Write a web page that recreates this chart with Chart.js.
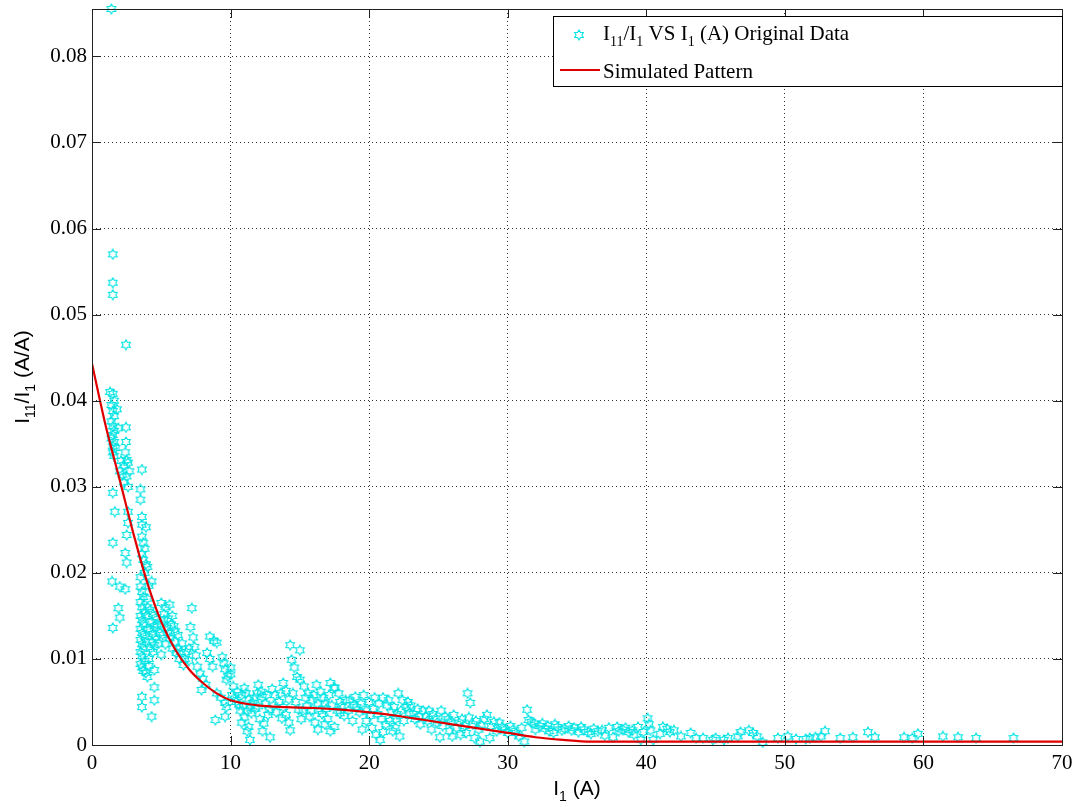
<!DOCTYPE html>
<html>
<head>
<meta charset="utf-8">
<script src="https://cdn.jsdelivr.net/npm/chart.js@4/dist/chart.umd.min.js"></script>
<style>
html, body { margin: 0; padding: 0; background: #fff; }
</style>
</head>
<body>
<canvas id="chart" width="1075" height="807"></canvas>
<script>
// axis ranges / ticks
const xMin = 0, xMax = 70, xStep = 10;
const yMin = 0, yMax = 0.0855, yStep = 0.01;

// simulated pattern (fitted curve)
const fitX = [0, 1, 2, 3, 4, 5, 6, 7, 8, 9, 10, 12, 14, 16, 18, 20, 22, 24, 26, 28, 30, 32, 34, 36, 38, 40, 45, 50, 55, 60, 65, 70];
const fitY = [0.0443, 0.0370, 0.0308, 0.0245, 0.0188, 0.0143, 0.0111, 0.0088, 0.0072, 0.0060, 0.0052, 0.0046, 0.0044, 0.0043, 0.0041, 0.0038, 0.0034, 0.0029, 0.0024, 0.0019, 0.0014, 0.0009, 0.0006, 0.0004, 0.0004, 0.0004, 0.0004, 0.0004, 0.0004, 0.0004, 0.0004, 0.0004];

// original data, I1 (A) vs I11/I1
const lowCurrent = [
  [1.4,0.0855],[1.5,0.0570],[1.5,0.0537],[1.5,0.0523],[2.45,0.0465],
  [1.3,0.0410],[1.5,0.0408],[1.6,0.0400],[1.4,0.0395],[1.5,0.0388],[1.6,0.0382],[1.4,0.0376],[1.5,0.0370],
  [1.6,0.0365],[1.5,0.0360],[1.4,0.0356],[1.6,0.0352],[1.5,0.0347],[1.7,0.0345],[1.5,0.0340],[1.6,0.0336],
  [1.9,0.0368],[1.8,0.0390],[2.45,0.0369],[2.45,0.0352],[2.4,0.0340],[2.5,0.0331],[2.1,0.0330],[2.3,0.0325],
  [2.6,0.0328],[2.0,0.0318],[2.2,0.0314],[2.5,0.0312],[2.7,0.0318],[2.3,0.0305],[2.6,0.0300],
  [3.6,0.0320],[3.5,0.0297],[3.5,0.0285],[3.6,0.0265],[3.6,0.0256],[3.9,0.0253],
  [1.5,0.0293],[1.65,0.0271],[1.5,0.0235],[2.4,0.0223],[2.5,0.0212],[2.6,0.0271],[2.6,0.0258],[2.5,0.0244],
  [3.6,0.0242],[3.7,0.0235],[3.8,0.0228],[3.6,0.0222],[3.7,0.0215],[3.9,0.0210],[4.0,0.0207],[3.8,0.0200],[3.5,0.0195],
  [1.45,0.0190],[2.0,0.0184],[2.4,0.0181],[1.9,0.0159],[2.0,0.0148],[1.5,0.0136],
  [3.5,0.0184],[3.6,0.0178],[3.7,0.0172],[3.5,0.0166],[3.6,0.0160],[3.8,0.0155],[3.5,0.0150],[3.6,0.0145],
  [3.7,0.0140],[3.5,0.0135],[3.6,0.0130],[3.8,0.0126],[3.5,0.0122],[3.6,0.0117],[3.7,0.0112],[3.5,0.0108],
  [3.6,0.0103],[3.8,0.0098],[3.5,0.0094],[3.6,0.0090],[3.7,0.0086],
  [3.6,0.0056],[3.6,0.0044],[4.3,0.0033],[4.5,0.0067],[4.5,0.0052],[4.0,0.0079],[4.5,0.0087],[4.1,0.0092],[3.9,0.0084],
  [4.2,0.0157],[4.4,0.0152],[4.6,0.0148],[4.3,0.0143],[4.5,0.0138],[4.2,0.0134],[4.4,0.0129],[4.6,0.0125],
  [4.3,0.0120],[4.5,0.0116],[4.2,0.0112],[4.4,0.0108],[4.0,0.0170],[4.1,0.0185],[4.3,0.0190],
  [3.9,0.0120],[4.0,0.0135],[4.1,0.0100],[3.9,0.0150],[4.0,0.0160],[4.7,0.0140],[4.8,0.0118],[4.9,0.0130]
];
const midCurrent = [
  [5.0,0.0165],[5.3,0.0160],[5.6,0.0163],[5.2,0.0152],[5.5,0.0147],[5.8,0.0150],[5.0,0.0140],[5.4,0.0136],
  [5.9,0.0138],[5.1,0.0128],[5.6,0.0124],[6.0,0.0120],[5.3,0.0117],[5.8,0.0112],[6.1,0.0107],[5.0,0.0105],
  [6.2,0.0128],[6.5,0.0118],[6.3,0.0100],[6.6,0.0093],[7.2,0.0159],[7.1,0.0137],[7.3,0.0125],[7.4,0.0114],
  [6.8,0.0108],[7.0,0.0098],[5.2,0.0145],[5.5,0.0130],[5.7,0.0140],[6.0,0.0132],[6.2,0.0112],[6.4,0.0108],
  [6.7,0.0100],[7.0,0.0112],[7.5,0.0104],
  [8.5,0.0126],[8.8,0.0121],[9.0,0.0119],[8.3,0.0107],[8.5,0.0100],[8.7,0.0091],[7.6,0.0091],[7.8,0.0083],
  [8.0,0.0077],[8.2,0.0070],[7.9,0.0064],[9.4,0.0102],[9.5,0.0095],[9.6,0.0088],[9.8,0.0080],[9.7,0.0076],
  [9.0,0.0060],[9.3,0.0055],[9.6,0.0049],[9.7,0.0044],[8.9,0.0029],[9.6,0.0033],[10.0,0.0090],[10.0,0.0082],
  [10.2,0.0068],[10.5,0.0062],[10.8,0.0058],[11.0,0.0066],[11.3,0.0053],[11.6,0.0049],[11.9,0.0060],[10.4,0.0050],
  [10.9,0.0045],[11.2,0.0040],[11.5,0.0037],[12.0,0.0070],[12.3,0.0056],[12.5,0.0048],[12.8,0.0041],[13.0,0.0065],
  [13.2,0.0058],[13.5,0.0050],[13.8,0.0072],[14.0,0.0063],[14.2,0.0053],[12.1,0.0030],[12.4,0.0025],[11.3,0.0021],
  [11.4,0.0006],[12.85,0.0009],[14.3,0.0116],[15.0,0.0110],[14.4,0.0099],[14.6,0.0090],[14.8,0.0079],[13.8,0.0044],
  [14.0,0.0035],[14.2,0.0026],[14.3,0.0017],
  [10.1,0.0058],[10.3,0.0054],[10.6,0.0047],[10.7,0.0040],[11.1,0.0060],[11.4,0.0045],[11.7,0.0055],[11.8,0.0042],
  [12.2,0.0062],[12.6,0.0058],[12.7,0.0035],[13.1,0.0046],[13.3,0.0038],[13.6,0.0060],[13.7,0.0031],[12.0,0.0045],
  [11.0,0.0032],[10.8,0.0026],[11.2,0.0016],[12.3,0.0016],
  [15.0,0.0076],[15.3,0.0068],[15.6,0.0060],[15.9,0.0052],[16.2,0.0070],[16.5,0.0062],[16.8,0.0048],[17.1,0.0058],
  [17.5,0.0066],[17.9,0.0050],[15.2,0.0040],[15.7,0.0033],[16.1,0.0026],[16.6,0.0036],[17.0,0.0030],[17.5,0.0021],[17.9,0.0037],
  [14.5,0.0060],[14.7,0.0050],[14.9,0.0041],[15.4,0.0055],[15.5,0.0045],[15.8,0.0040],[16.0,0.0058],[16.3,0.0048],
  [16.4,0.0040],[16.7,0.0055],[16.9,0.0042],[17.3,0.0046],[17.7,0.0040],[15.1,0.0030],[16.3,0.0018],[16.8,0.0024],[17.2,0.0016],
  [17.2,0.0072],[17.5,0.0067],[17.8,0.0060],[18.6,0.0052],[18.9,0.0047],[19.1,0.0044],[19.6,0.0058],[20.0,0.0050],
  [20.3,0.0042],[20.6,0.0036],[21.0,0.0055],[21.3,0.0046],[21.6,0.0038],[21.9,0.0030],[22.1,0.0060],[22.4,0.0052],
  [22.7,0.0044],[19.8,0.0028],[20.2,0.0020],[20.5,0.0012],[20.8,0.0006],[21.2,0.0024],[21.7,0.0016],[22.2,0.0010],
  [18.2,0.0034],[18.8,0.0028],[19.3,0.0038],
  [18.0,0.0045],[18.3,0.0052],[18.5,0.0040],[19.0,0.0056],[19.4,0.0048],[19.8,0.0040],[20.1,0.0034],[20.4,0.0055],
  [20.7,0.0048],[20.9,0.0030],[21.4,0.0052],[21.5,0.0028],[21.8,0.0044],[22.0,0.0036],[22.3,0.0040],[22.5,0.0028],
  [22.8,0.0050],[19.5,0.0018],[21.0,0.0015],[21.9,0.0020]
];
const highCurrent = [
  [22.9,0.0037],[23.3,0.0030],[23.7,0.0024],[24.1,0.0033],[24.5,0.0018],[24.9,0.0026],[25.1,0.0009],[23.5,0.0042],
  [24.3,0.0040],[25.5,0.0033],[25.9,0.0026],[26.3,0.0020],[26.7,0.0030],[27.1,0.0060],[27.3,0.0049],[27.0,0.0014],
  [27.5,0.0024],[27.9,0.0018],[28.3,0.0030],[28.5,0.0035],[29.0,0.0027],[28.7,0.0008],[28.0,0.0004],[26.0,0.0010],[29.2,0.0016],
  [23.0,0.0046],[23.2,0.0036],[23.6,0.0033],[23.9,0.0040],[24.2,0.0028],[24.6,0.0036],[24.8,0.0031],[25.2,0.0040],
  [25.3,0.0022],[25.7,0.0030],[26.1,0.0035],[26.5,0.0026],[26.9,0.0022],[27.2,0.0032],[27.7,0.0028],[28.1,0.0023],
  [28.8,0.0022],[29.4,0.0026],[29.8,0.0018],[30.2,0.0022],[30.6,0.0014],[25.8,0.0016],[26.6,0.0012],[27.6,0.0008],
  [29.6,0.0021],[30.0,0.0014],[30.4,0.0018],[30.8,0.0010],[31.2,0.0004],[31.4,0.0041],[31.5,0.0029],[31.9,0.0025],
  [32.3,0.0022],[32.7,0.0019],[33.0,0.0016],[33.3,0.0014],[33.6,0.0021],[34.1,0.0019],[34.6,0.0017],[35.1,0.0015],
  [35.5,0.0018],[36.0,0.0013],[36.5,0.0016],[37.0,0.0011],[37.6,0.0009],[37.9,0.0021],[38.3,0.0018],[38.7,0.0015],
  [39.1,0.0012],[39.4,0.0021],[39.6,0.0006],[40.1,0.0031],[40.2,0.0024],[40.3,0.0017],[40.5,0.0006],[41.2,0.0021],
  [41.7,0.0015],[42.5,0.0010],
  [31.0,0.0020],[31.7,0.0027],[32.0,0.0018],[32.5,0.0025],[32.9,0.0022],[33.4,0.0024],[33.9,0.0017],[34.4,0.0022],
  [34.8,0.0020],[35.3,0.0021],[35.8,0.0015],[36.2,0.0019],[36.8,0.0017],[37.3,0.0020],[38.0,0.0016],[38.5,0.0020],
  [39.0,0.0017],[39.8,0.0015],[41.0,0.0013],[41.5,0.0019],[42.0,0.0017],
  [43.2,0.0014],[43.6,0.0008],[44.1,0.0008],[44.8,0.0006],[45.0,0.0008],[45.6,0.0006],[45.9,0.0008],[46.6,0.0010],
  [46.8,0.0015],[47.4,0.0017],[47.7,0.0014],[48.0,0.0010],[48.4,0.0003],[49.5,0.0008],[50.2,0.0010],[50.8,0.0007],
  [51.5,0.0007],[51.8,0.0008],[52.2,0.0009],[52.6,0.0010],[52.9,0.0016],[54.0,0.0008],[54.9,0.0009],[56.0,0.0015],
  [56.5,0.0009],[58.6,0.0009],[59.2,0.0008],[59.6,0.0013],[61.4,0.0010],[62.5,0.0009],[63.8,0.0008],[66.5,0.0008]
];
const originalData = lowCurrent.concat(midCurrent, highCurrent);

const cyan = '#00e3e3';
const red = '#e00000';

// hexagram marker (matlab 'h')
function makeHexagram(size, color) {
    const c = document.createElement('canvas');
    c.width = c.height = size;
    const g = c.getContext('2d');
    const cx = size / 2, cy = size / 2, ro = size / 2 - 1, ri = ro / Math.sqrt(3);
    g.strokeStyle = color;
    g.lineWidth = 1.1;
    g.beginPath();
    for (let k = 0; k < 12; k++) {
        const a = -Math.PI / 2 + k * Math.PI / 6;
        const r = k % 2 === 0 ? ro : ri;
        g.lineTo(cx + r * Math.cos(a), cy + r * Math.sin(a));
    }
    g.closePath();
    g.stroke();
    return c;
}
const hexMarker = makeHexagram(12, cyan);

// draw text pieces, some as subscripts
function drawParts(ctx, parts, x, y, size, family, align) {
    const subSize = Math.round(size * 0.68);
    let total = 0;
    parts.forEach(p => {
        ctx.font = (p.sub ? subSize : size) + 'px ' + family;
        p.w = ctx.measureText(p.t).width;
        total += p.w;
    });
    let cx = align === 'center' ? x - total / 2 : x;
    ctx.textAlign = 'left';
    ctx.textBaseline = 'alphabetic';
    parts.forEach(p => {
        ctx.font = (p.sub ? subSize : size) + 'px ' + family;
        ctx.fillText(p.t, cx, p.sub ? y + size * 0.3 : y);
        cx += p.w;
    });
}

const decorations = {
    id: 'decorations',
    afterDraw(chart) {
        const ctx = chart.ctx;
        const area = chart.chartArea;
        const xs = chart.scales.x, ys = chart.scales.y;
        ctx.save();
        ctx.strokeStyle = '#222';
        ctx.lineWidth = 1;
        ctx.strokeRect(area.left + 0.5, area.top + 0.5, area.right - area.left, area.bottom - area.top);

        // inward tick marks on all four sides
        const tl = 9;
        ctx.beginPath();
        ys.ticks.forEach(t => {
            const py = Math.round(ys.getPixelForValue(t.value)) + 0.5;
            ctx.moveTo(area.left, py); ctx.lineTo(area.left + tl, py);
            ctx.moveTo(area.right, py); ctx.lineTo(area.right - tl, py);
        });
        xs.ticks.forEach(t => {
            const px = Math.round(xs.getPixelForValue(t.value)) + 0.5;
            ctx.moveTo(px, area.bottom); ctx.lineTo(px, area.bottom - tl);
            ctx.moveTo(px, area.top); ctx.lineTo(px, area.top + tl);
        });
        ctx.stroke();

        // axis titles
        ctx.fillStyle = '#000';
        const sans = '"Liberation Sans", Arial, sans-serif';
        drawParts(ctx, [{t: 'I'}, {t: '1', sub: true}, {t: ' (A)'}], (area.left + area.right) / 2, 795, 21, sans, 'center');
        ctx.save();
        ctx.translate(29, (area.top + area.bottom) / 2);
        ctx.rotate(-Math.PI / 2);
        drawParts(ctx, [{t: 'I'}, {t: '11', sub: true}, {t: '/I'}, {t: '1', sub: true}, {t: ' (A/A)'}], 0, 0, 21, sans, 'center');
        ctx.restore();

        // legend
        const serif = '"Liberation Serif", "Times New Roman", serif';
        const lx = 553, ly = 16, lw = area.right - 553, lh = 70;
        ctx.fillStyle = '#fff';
        ctx.fillRect(lx, ly, lw, lh);
        ctx.strokeStyle = '#000';
        ctx.strokeRect(lx + 0.5, ly + 0.5, lw, lh);
        ctx.drawImage(hexMarker, 579 - 6, 35 - 6);
        ctx.strokeStyle = red;
        ctx.lineWidth = 2;
        ctx.beginPath();
        ctx.moveTo(560, 70); ctx.lineTo(600, 70);
        ctx.stroke();
        ctx.fillStyle = '#000';
        drawParts(ctx, [{t: 'I'}, {t: '11', sub: true}, {t: '/I'}, {t: '1', sub: true}, {t: ' VS I'}, {t: '1', sub: true}, {t: ' (A) Original Data'}], 603, 40, 21, serif, 'left');
        drawParts(ctx, [{t: 'Simulated Pattern'}], 603, 78, 21, serif, 'left');
        ctx.restore();
    }
};

const tickFont = { family: '"Liberation Serif", "Times New Roman", serif', size: 21 };

new Chart(document.getElementById('chart'), {
    type: 'scatter',
    data: {
        datasets: [{
            label: 'Simulated Pattern',
            data: fitX.map((x, i) => ({ x: x, y: fitY[i] })),
            showLine: true,
            borderColor: red,
            borderWidth: 2.2,
            pointRadius: 0,
            cubicInterpolationMode: 'monotone',
            order: 0
        }, {
            label: 'I11/I1 VS I1 (A) Original Data',
            data: originalData.map(p => ({ x: p[0], y: p[1] })),
            pointStyle: hexMarker,
            pointRadius: 5,
            clip: false,
            order: 1
        }]
    },
    options: {
        responsive: false,
        animation: false,
        layout: { padding: { top: 9, right: 13, left: 0, bottom: 0 } },
        plugins: { legend: { display: false }, tooltip: { enabled: false } },
        scales: {
            x: {
                type: 'linear', min: xMin, max: xMax,
                ticks: { stepSize: xStep, color: '#000', font: tickFont, padding: 6, maxRotation: 0, includeBounds: false },
                grid: { color: 'rgba(0,0,0,0.8)', tickLength: 0 },
                border: { display: false, dash: [1, 3] },
                afterFit: s => { s.height = 62; s.paddingLeft = 0; s.paddingRight = 0; }
            },
            y: {
                type: 'linear', min: yMin, max: yMax,
                ticks: { stepSize: yStep, color: '#000', font: tickFont, padding: 5, includeBounds: false,
                         callback: v => String(+v.toFixed(2)) },
                grid: { color: 'rgba(0,0,0,0.8)', tickLength: 0 },
                border: { display: false, dash: [1, 3] },
                afterFit: s => { s.width = 92; s.paddingTop = 0; s.paddingBottom = 0; }
            }
        }
    },
    plugins: [decorations]
});
</script>
</body>
</html>
